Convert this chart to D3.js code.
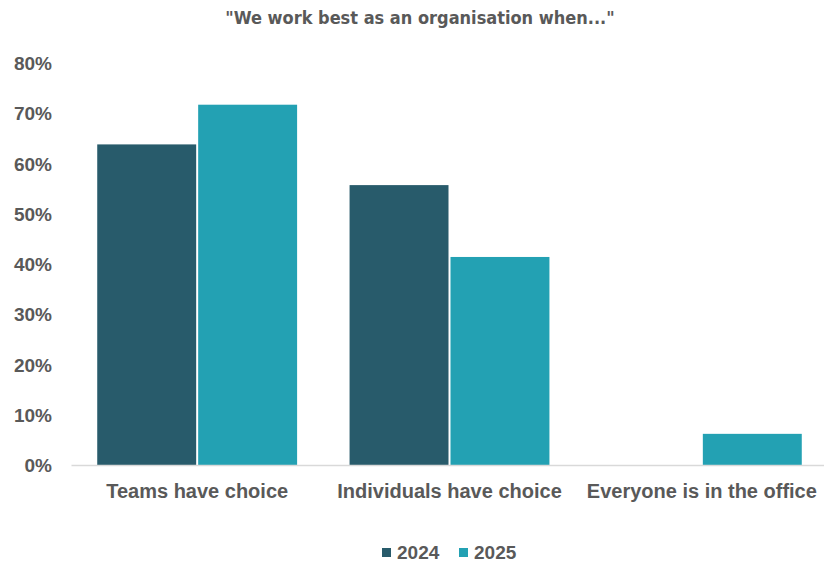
<!DOCTYPE html>
<meta charset="utf-8">
<title>We work best</title>
<style>
    body { margin: 0; background: #fff; }
    text { font-family: "Liberation Sans", Arial, sans-serif; fill: #595959; }
    .title { font-family: "Liberation Sans Narrow", "DejaVu Sans Condensed", sans-serif; font-size: 18px; font-weight: bold; }
    .tick text { font-size: 20px; font-weight: bold; }
    .yax .tick text { font-size: 19px; }
    .legend text { font-size: 19px; font-weight: bold; }
</style>
<body>
<script src="https://cdnjs.cloudflare.com/ajax/libs/d3/7.8.5/d3.min.js"></script>
<script>
    var categories = ["Teams have choice", "Individuals have choice", "Everyone is in the office"];
    var series = ["2024", "2025"];
    var values2024 = [0.638, 0.557, 0];
    var values2025 = [0.717, 0.414, 0.062];
    var yTicks = [0, 0.1, 0.2, 0.3, 0.4, 0.5, 0.6, 0.7, 0.8];
    var colors = ["#285b6b", "#23a1b3"];

    var W = 824, H = 567;
    var svg = d3.select("body").append("svg")
        .attr("width", W)
        .attr("height", H);

    svg.append("text")
        .attr("class", "title")
        .attr("x", 420)
        .attr("y", 24)
        .attr("text-anchor", "middle")
        .text("\"We work best as an organisation when...\"");

    var x0 = d3.scaleBand()
        .domain(categories)
        .range([71, 828])
        .paddingInner(0.2)
        .paddingOuter(0.1);

    var x1 = d3.scaleBand()
        .domain(series)
        .range([0, x0.bandwidth()])
        .padding(0);

    var y = d3.scaleLinear()
        .domain([0, 0.8])
        .range([465, 63]);

    // y axis labels, no line
    var yAxis = svg.append("g")
        .attr("class", "yax")
        .attr("transform", "translate(52,0)")
        .call(d3.axisLeft(y).tickValues(yTicks).tickFormat(d3.format(".0%")).tickSize(0).tickPadding(0));
    yAxis.select(".domain").remove();
    yAxis.selectAll("text").attr("dy", "0.35em");

    var rows = categories.map(function (c, i) {
        return {cat: c, vals: [values2024[i], values2025[i]]};
    });

    var groups = svg.selectAll("g.group")
        .data(rows)
        .enter()
        .append("g")
        .attr("class", "group")
        .attr("transform", function (d) { return "translate(" + x0(d.cat) + ",0)"; });

    groups.selectAll("rect")
        .data(function (d) {
            return d.vals.map(function (v, j) { return {s: series[j], v: v, j: j}; });
        })
        .enter()
        .append("rect")
        .filter(function (d) { return d.v > 0; })
        .attr("x", function (d) { return x1(d.s) + 1; })
        .attr("width", x1.bandwidth() - 2)
        .attr("y", function (d) { return y(d.v); })
        .attr("height", function (d) { return y(0) - y(d.v); })
        .attr("fill", function (d) { return colors[d.j]; });

    // x axis
    var xAxis = svg.append("g")
        .attr("transform", "translate(0," + y(0) + ")")
        .call(d3.axisBottom(x0).tickSize(0).tickPadding(19));
    xAxis.select(".domain").attr("stroke", "#d9d9d9").attr("stroke-width", 1.5);

    // legend
    var legend = svg.append("g").attr("class", "legend");
    var lx = [382, 459];
    series.forEach(function (s, i) {
        legend.append("rect")
            .attr("x", lx[i])
            .attr("y", 548)
            .attr("width", 9)
            .attr("height", 9)
            .attr("fill", colors[i]);
        legend.append("text")
            .attr("x", lx[i] + 15)
            .attr("y", 559)
            .text(s);
    });
</script>
</body>
